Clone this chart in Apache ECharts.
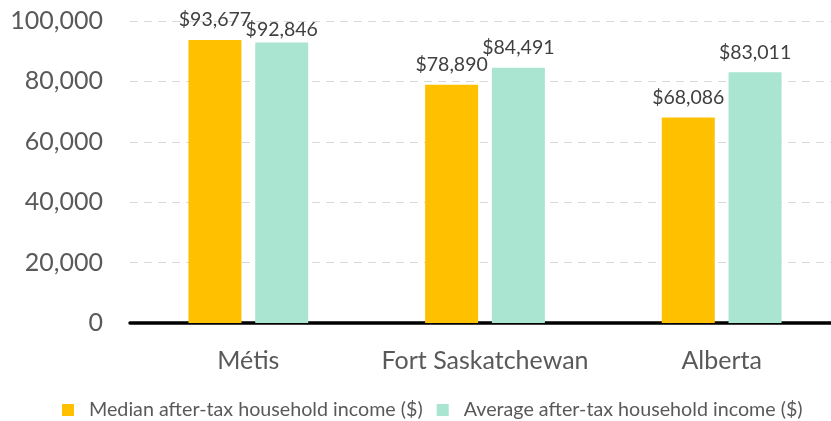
<!DOCTYPE html>
<html><head><meta charset="utf-8">
<script src="https://cdn.jsdelivr.net/npm/echarts@6/dist/echarts.min.js"></script>
<style>html,body{margin:0;padding:0;background:#fff}#c{width:831px;height:421px}</style>
</head><body><div id="c"></div>
<script>
const categories = ["Métis", "Fort Saskatchewan", "Alberta"];
const medianIncome = [93677, 78890, 68086];
const averageIncome = [92846, 84491, 83011];
const seriesNames = ["Median after-tax household income ($)", "Average after-tax household income ($)"];

const chart = echarts.init(document.getElementById('c'));
const fmt = v => '$' + v.toLocaleString('en-US');
const font = 'Lato, "Open Sans", sans-serif';
const labelStyle = { show: true, position: 'top', distance: 10, fontSize: 19.5, color: '#404040', fontFamily: font, formatter: p => fmt(p.value) };
chart.setOption({
  animation: false,
  textStyle: { fontFamily: font },
  grid: { left: 130, top: 21, width: 710, height: 302, outerBoundsMode: 'none', containLabel: false },
  legend: {
    left: 57, top: 395, itemWidth: 12, itemHeight: 12, itemGap: 14,
    icon: 'rect',
    textStyle: { fontSize: 19.7, color: '#595959', fontFamily: font, padding: [0, 0, 0, 10] },
    data: seriesNames
  },
  xAxis: {
    type: 'category', data: categories,
    axisLine: { lineStyle: { color: '#000', width: 3.5 } },
    axisTick: { show: false },
    axisLabel: { fontSize: 25, color: '#595959', margin: 25, interval: 0, fontFamily: font }
  },
  yAxis: {
    type: 'value', min: 0, max: 100000, interval: 20000,
    axisLabel: { fontSize: 25, color: '#595959', margin: 27, fontFamily: font,
      formatter: v => v.toLocaleString('en-US') },
    splitLine: { lineStyle: { color: '#D9D9D9', type: [8, 6], width: 1 } },
    axisLine: { show: false }, axisTick: { show: false }
  },
  series: [
    { name: seriesNames[0], type: 'bar', data: medianIncome, barWidth: 53, barGap: '26%',
      itemStyle: { color: '#FFC000' }, label: labelStyle },
    { name: seriesNames[1], type: 'bar',
      data: averageIncome.map((v, i) => i === 0 ? { value: v, label: { distance: 3 } } : v),
      barWidth: 53,
      itemStyle: { color: '#A9E5D1' }, label: labelStyle }
  ]
});
</script></body></html>
